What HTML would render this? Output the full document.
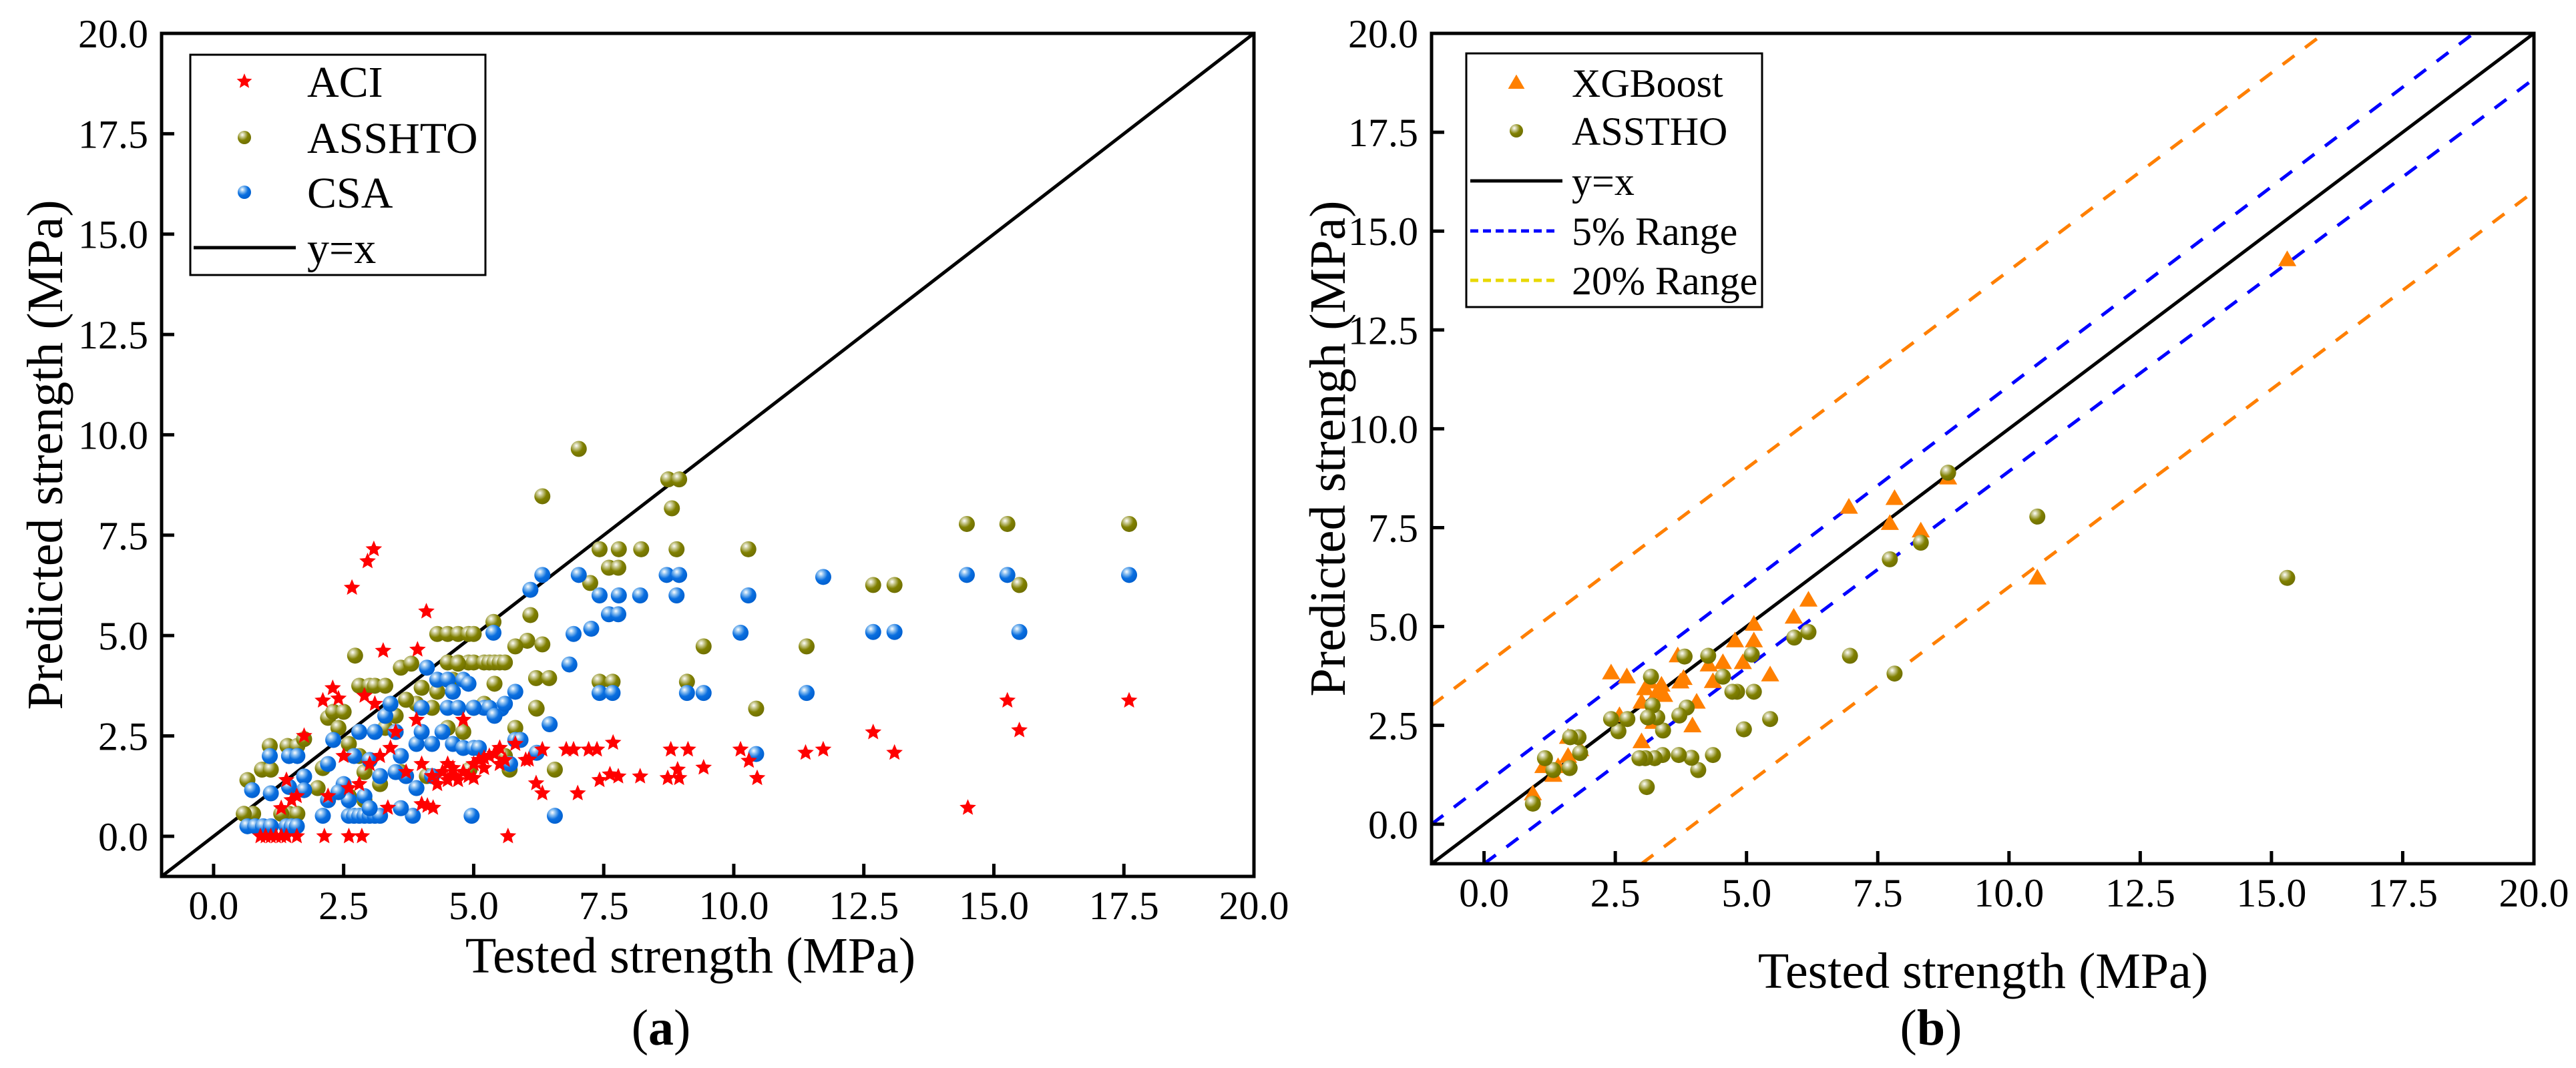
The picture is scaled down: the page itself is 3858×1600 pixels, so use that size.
<!DOCTYPE html>
<html><head><meta charset="utf-8">
<style>
html,body{margin:0;padding:0;background:#fff;}
svg{display:block;font-family:"Liberation Serif","Times New Roman",serif;}
text{font-family:"Liberation Serif","Times New Roman",serif;}
</style></head>
<body>
<svg id="fig" width="3858" height="1600" viewBox="0 0 3858 1600" xmlns="http://www.w3.org/2000/svg" font-family="Liberation Serif, serif">
<defs>
<radialGradient id="gOlive" cx="0.35" cy="0.3" r="0.7">
<stop offset="0" stop-color="#ffffff"/><stop offset="0.25" stop-color="#c8c890"/><stop offset="0.6" stop-color="#808000"/><stop offset="1" stop-color="#707000"/>
</radialGradient>
<radialGradient id="gBlue" cx="0.35" cy="0.3" r="0.7">
<stop offset="0" stop-color="#ffffff"/><stop offset="0.25" stop-color="#8cc0f0"/><stop offset="0.6" stop-color="#0a6fe0"/><stop offset="1" stop-color="#0060d0"/>
</radialGradient>
<clipPath id="clipA"><rect x="242" y="50" width="1636" height="1263"/></clipPath>
<clipPath id="clipB"><rect x="2144" y="50" width="1651" height="1244"/></clipPath>
</defs>
<g id="panelA"></g>
<g id="panelB"></g>
</svg>
<script>
// ---------- Panel (a) data ----------
const aciX = [3.08,2.96,2.66,4.09,3.26,3.92,2.1,2.29,2.4,1.74,15.26,17.6,12.68,15.49,13.09,11.38,11.72,10.13,10.29,10.45,9.42,9.12,8.79,8.92,8.73,8.95,8.2,7.68,7.78,7.62,7.42,7.37,7.21,7.0,6.92,6.78,6.32,6.2,6.32,6.06,14.5,5.66,0.9,1.0,1.1,1.2,1.3,1.4,1.6,2.13,2.6,2.85,3.35,4.11,4.22,4.0,
4.3,4.5,4.6,4.7,4.8,4.9,5.0,5.1,5.2,5.3,5.4,5.5,5.0,4.4,4.6,4.8,5.5,5.6,4.2,4.0,3.7,3.4,3.2,3.0,2.8,2.6,2.5,3.5,3.9,1.5,1.6,1.3,1.4,2.2,2.9,3.1,5.8,6.0,4.5,5.2];
const aciY = [7.15,6.85,6.19,5.6,4.62,4.65,3.38,3.69,3.43,2.5,3.38,3.38,2.59,2.64,2.08,2.08,2.16,2.16,1.88,1.45,1.71,2.16,2.16,1.66,1.45,1.45,1.49,2.33,1.49,1.54,1.4,2.16,2.16,1.07,2.16,2.16,1.07,1.32,2.16,1.91,0.71,0,0,0,0,0,0,0,0,0,0,0,0.71,0.76,0.71,0.8,
1.3,1.4,1.5,1.4,1.6,1.5,1.8,1.9,1.95,2.0,2.05,1.8,1.45,1.6,1.7,2.9,2.2,1.9,1.5,1.8,1.6,2.2,2.0,1.8,1.3,1.2,2.0,2.6,2.9,0.9,1.0,0.7,1.4,1.0,3.5,3.3,2.3,1.9,1.8,1.7];
const asshtoX = [7.02,8.74,8.95,8.81,6.32,14.48,15.26,17.6,7.42,7.79,8.22,8.9,10.28,7.24,7.6,7.78,12.68,13.09,15.49,6.09,5.38,9.42,11.4,6.03,6.32,5.8,2.72,10.43,9.1,7.42,7.67,6.2,6.45,6.21,6.56,5.69,4.92,4.3,4.5,4.7,4.9,5.0,4.5,4.7,4.9,5.0,5.2,5.3,5.4,5.5,5.6,
0.65,0.76,0.58,1.08,0.93,1.1,1.42,1.61,1.74,1.45,1.61,1.3,
2.2,2.3,2.5,2.4,2.8,3.0,3.1,3.3,2.6,2.8,2.9,3.2,3.6,3.8,4.0,3.9,4.2,3.5,3.3,4.5,4.8,5.0,5.2,5.6,5.8,4.6,4.3,2.0,2.1,2.6,3.0,3.6,4.1,2.9,4.7,5.4,6.2,3.7];
const asshtoY = [9.65,8.89,8.89,8.17,8.47,7.78,7.78,7.78,7.15,7.15,7.15,7.15,7.15,6.31,6.69,6.69,6.26,6.26,6.26,5.51,5.34,4.73,4.73,4.87,4.78,4.73,4.5,3.18,3.85,3.85,3.85,3.94,3.94,3.18,1.66,1.66,1.66,5.04,5.04,5.04,5.04,5.04,4.33,4.33,4.33,4.33,4.33,4.33,4.33,4.33,4.33,
1.4,0.56,0.56,2.25,1.66,1.66,2.25,2.25,2.42,0.56,0.56,0.56,
2.95,3.1,3.1,2.7,3.75,3.75,3.75,3.75,2.3,2.0,1.6,1.3,4.2,4.3,3.7,3.3,3.2,3.0,2.7,2.7,2.6,3.2,3.3,2.0,2.7,3.9,3.6,1.2,1.7,1.0,1.9,1.6,1.5,0.9,4.3,3.8,3.2,3.4];
const csaX = [17.6,15.26,14.48,11.72,10.28,8.9,8.71,8.95,7.02,6.32,6.09,7.42,7.79,8.2,7.6,7.78,7.26,6.92,10.13,12.68,13.09,15.49,5.38,6.84,7.42,7.67,9.1,9.42,11.4,10.43,4.96,6.56,3.83,6.21,6.46,5.8,5.53,
0.65,0.8,0.95,1.1,1.4,1.5,1.6,0.74,1.08,1.45,1.61,1.45,1.74,1.1,1.74,
2.1,2.6,2.7,2.8,2.9,3.0,3.1,3.2,
2.2,2.3,2.5,2.7,2.8,3.0,3.1,3.3,3.5,3.6,3.7,3.9,3.9,4.0,4.1,4.3,4.5,4.6,4.8,4.9,4.4,4.6,4.8,5.0,5.1,5.2,5.3,5.4,4.2,4.0,3.2,2.9,2.6,2.2,3.4,4.5,4.7,5.0,4.2,3.5,5.6,5.8,5.9,5.7,2.4,3.0,3.6];
const csaY = [6.51,6.51,6.51,6.46,6.0,6.0,6.51,6.51,6.51,6.51,6.14,6.0,6.0,6.0,5.53,5.53,5.17,5.04,5.07,5.09,5.09,5.09,5.07,4.28,3.57,3.57,3.57,3.57,3.57,2.05,0.51,0.51,0.51,2.08,2.79,3.6,3.18,
0.25,0.25,0.25,0.25,0.25,0.25,0.25,1.15,2.0,2.0,2.0,1.23,1.49,1.07,1.15,
0.51,0.51,0.51,0.51,0.51,0.51,0.51,0.51,
1.8,2.4,1.3,2.0,2.6,1.9,2.6,3.0,2.6,2.0,1.5,1.2,2.3,3.2,4.2,3.9,3.9,3.6,3.9,3.8,2.6,2.3,2.2,2.2,2.2,3.2,3.2,3.0,1.5,2.6,1.5,1.0,0.9,0.9,3.3,3.2,3.2,3.2,2.3,1.6,3.3,2.4,2.4,1.8,1.1,0.7,0.7];

// ---------- Panel (b) data ----------
const xgbX = [15.3,10.54,8.84,8.32,7.82,7.73,6.95,6.18,5.9,5.45,5.14,5.14,4.93,4.78,4.55,4.36,4.28,4.05,3.97,3.8,3.69,3.38,3.3,3.23,3.15,3.07,3.0,3.0,2.72,2.42,2.58,1.83,1.6,1.6,1.32,1.13,0.93,1.41,3.43,3.74];
const xgbY = [14.28,6.23,8.76,7.42,8.24,7.61,8.02,5.67,5.24,3.78,5.06,4.64,4.09,4.64,4.09,3.61,4.03,3.09,2.49,3.69,4.26,3.52,3.35,2.58,3.6,3.43,3.09,2.09,3.73,3.83,2.75,1.89,2.2,1.72,1.24,1.46,0.77,1.46,3.26,3.6];
const asthoX = [15.3,10.54,8.84,8.32,7.73,7.82,6.97,6.18,5.91,5.45,5.14,5.1,4.95,4.82,4.73,4.55,4.36,4.27,4.08,3.95,3.86,3.82,3.71,3.72,3.41,3.4,3.3,3.25,3.21,3.18,3.12,3.07,2.96,3.1,2.56,2.42,2.73,1.8,1.64,1.83,1.32,1.63,1.16,0.93];
const asthoY = [6.23,7.78,8.89,7.12,6.7,3.81,4.26,4.86,4.72,2.66,3.35,4.29,2.4,3.35,3.35,3.73,1.75,4.26,1.37,1.68,2.95,4.24,1.75,2.75,2.37,1.75,2.7,1.67,3.0,3.73,2.7,1.67,1.67,0.94,2.35,2.66,2.66,2.2,2.2,1.8,1.37,1.42,1.67,0.52];
const yxLine = [[-1,-1],[20,20]];
const band5Upper = [[-1,0],[18.85,20]];
const band5Lower = [[0,-1],[20,18.85]];
const band20Upper = [[-1,3],[16,20]];
const band20Lower = [[3,-1],[20,16]];
const tickVals = [0,2.5,5,7.5,10,12.5,15,17.5,20];
const tickLabels = ["0.0","2.5","5.0","7.5","10.0","12.5","15.0","17.5","20.0"];

const NS = "http://www.w3.org/2000/svg";
const FF = "Liberation Serif, Times New Roman, serif";
function mk(tag, attrs, parent){
  const e = document.createElementNS(NS, tag);
  for (const k in attrs) e.setAttribute(k, attrs[k]);
  if (tag === "text") e.setAttribute("font-family", FF);
  if (parent) parent.appendChild(e);
  return e;
}
function scale(d0,d1,r0,r1){ return v => r0 + (v-d0)/(d1-d0)*(r1-r0); }

function star(cx, cy, R){
  const r = R*0.45; let p = [];
  for (let i=0;i<10;i++){
    const a = -Math.PI/2 + i*Math.PI/5;
    const rr = i%2===0 ? R : r;
    p.push((cx+rr*Math.cos(a)).toFixed(1)+","+(cy+rr*Math.sin(a)).toFixed(1));
  }
  return p.join(" ");
}
function tri(cx, cy, s){
  return (cx)+","+(cy-s*0.62)+" "+(cx-s*0.62)+","+(cy+s*0.45)+" "+(cx+s*0.62)+","+(cy+s*0.45);
}

function drawAxes(g, box, sx, sy, titleX, titleYx, xTitleY){
  const [L,T,R,B] = [box.l, box.t, box.r, box.b];
  tickVals.forEach((v,i)=>{
    const x = sx(v);
    const t1 = mk("line",{x1:x,y1:B,x2:x,y2:B-19,stroke:"#000","stroke-width":5},g);
    
    
    const lx = mk("text",{x:x,y:B+64,"font-size":60,"text-anchor":"middle",fill:"#000"},g);
    lx.textContent = tickLabels[i];
    
    
    const y = sy(v);
    const t2 = mk("line",{x1:L,y1:y,x2:L+19,y2:y,stroke:"#000","stroke-width":5},g);
    
    
    const ly = mk("text",{x:L-20,y:y+21,"font-size":60,"text-anchor":"end",fill:"#000"},g);
    ly.textContent = tickLabels[i];
    
    
  });
  const frame = mk("rect",{x:L,y:T,width:R-L,height:B-T,fill:"none",stroke:"#000","stroke-width":5},g);
  
  
  const xt = mk("text",{x:titleX,y:xTitleY,"font-size":76,"text-anchor":"middle",fill:"#000"},g);
  xt.textContent = "Tested strength (MPa)";
  
  
  const cy = (T+B)/2;
  const yt = mk("text",{x:titleYx,y:cy,"font-size":76,"text-anchor":"middle","dominant-baseline":"central",transform:"rotate(-90 "+titleYx+" "+cy+")",fill:"#000"},g);
  return yt;
}

function drawLine(g, pts, sx, sy, attrs){
  return mk("line",Object.assign({x1:sx(pts[0][0]),y1:sy(pts[0][1]),x2:sx(pts[1][0]),y2:sy(pts[1][1])},attrs),g);
}

// ================= Panel A =================
(function(){
  const g = document.getElementById("panelA");
  const box = {l:242,t:50,r:1878,b:1313};
  const sx = scale(-1,20,box.l,box.r), sy = scale(-1,20,box.b,box.t);
  const plot = mk("g",{"clip-path":"url(#clipA)"},g);
  
  
  const diag = drawLine(plot, yxLine, sx, sy, {stroke:"#000","stroke-width":5});
  
  
  asshtoX.forEach((v,i)=>{
    const c = mk("circle",{cx:sx(v),cy:sy(asshtoY[i]),r:12,fill:"url(#gOlive)"},plot);
    
    
  });
  csaX.forEach((v,i)=>{
    const c = mk("circle",{cx:sx(v),cy:sy(csaY[i]),r:12,fill:"url(#gBlue)"},plot);
    
    
  });
  aciX.forEach((v,i)=>{
    const s = mk("polygon",{points:star(sx(v),sy(aciY[i]),13),fill:"#ff0000"},plot);
    
    
  });
  const yt = drawAxes(g, box, sx, sy, 1034, 68, 1457);
  yt.textContent = "Predicted strength (MPa)";
  
  
  const lg = mk("g",{},g);
  
  
  mk("rect",{x:285,y:82,width:442,height:330,fill:"#fff",stroke:"#000","stroke-width":3},lg);
  const rows = [["ACI",122],["ASSHTO",206],["CSA",288],["y=x",371]];
  rows.forEach(r=>{
    const t = mk("text",{x:460,y:r[1]+23,"font-size":66,fill:"#000"},lg);
    t.textContent = r[0];
    
    
  });
  mk("polygon",{points:star(366,122,12),fill:"#ff0000"},lg);
  mk("circle",{cx:366,cy:206,r:10,fill:"url(#gOlive)"},lg);
  mk("circle",{cx:366,cy:288,r:10,fill:"url(#gBlue)"},lg);
  mk("line",{x1:290,y1:371,x2:443,y2:371,stroke:"#000","stroke-width":5},lg);
  const cap = mk("text",{x:990,y:1565,"font-size":76,"text-anchor":"middle",fill:"#000"},g);
  cap.innerHTML = '(<tspan font-weight="bold">a</tspan>)';
  
  
})();

// ================= Panel B =================
(function(){
  const g = document.getElementById("panelB");
  const box = {l:2144,t:50,r:3795,b:1294};
  const sx = scale(-1,20,box.l,box.r), sy = scale(-1,20,box.b,box.t);
  const plot = mk("g",{"clip-path":"url(#clipB)"},g);
  
  
  const o1 = drawLine(plot, band20Upper, sx, sy, {stroke:"#ff7f00","stroke-width":5,"stroke-dasharray":"22 20"});
  
  
  const o2 = drawLine(plot, band20Lower, sx, sy, {stroke:"#ff7f00","stroke-width":5,"stroke-dasharray":"22 20"});
  
  
  const b1 = drawLine(plot, band5Upper, sx, sy, {stroke:"#0000ff","stroke-width":5,"stroke-dasharray":"22 20"});
  
  
  const b2 = drawLine(plot, band5Lower, sx, sy, {stroke:"#0000ff","stroke-width":5,"stroke-dasharray":"22 20"});
  
  
  const d = drawLine(plot, yxLine, sx, sy, {stroke:"#000","stroke-width":5});
  
  
  xgbX.forEach((v,i)=>{
    const p = mk("polygon",{points:tri(sx(v),sy(xgbY[i]),22),fill:"#ff8000"},plot);
    
    
  });
  asthoX.forEach((v,i)=>{
    const c = mk("circle",{cx:sx(v),cy:sy(asthoY[i]),r:12,fill:"url(#gOlive)"},plot);
    
    
  });
  const yt = drawAxes(g, box, sx, sy, 2970, 1989, 1480);
  yt.textContent = "Predicted strengh (MPa)";
  
  
  const lg = mk("g",{},g);
  
  
  mk("rect",{x:2196,y:80,width:443,height:380,fill:"#fff",stroke:"#000","stroke-width":3},lg);
  const rows = [["XGBoost",124],["ASSTHO",196],["y=x",271],["5% Range",346],["20% Range",420]];
  rows.forEach(r=>{
    const t = mk("text",{x:2354,y:r[1]+21,"font-size":60,fill:"#000"},lg);
    t.textContent = r[0];
    
    
  });
  mk("polygon",{points:tri(2271,124,20),fill:"#ff8000"},lg);
  mk("circle",{cx:2271,cy:196,r:10,fill:"url(#gOlive)"},lg);
  mk("line",{x1:2202,y1:271,x2:2340,y2:271,stroke:"#000","stroke-width":5},lg);
  mk("line",{x1:2202,y1:346,x2:2332,y2:346,stroke:"#0000ff","stroke-width":5,"stroke-dasharray":"12 7"},lg);
  mk("line",{x1:2202,y1:420,x2:2332,y2:420,stroke:"#e8d800","stroke-width":5,"stroke-dasharray":"12 7"},lg);
  const cap = mk("text",{x:2892,y:1565,"font-size":76,"text-anchor":"middle",fill:"#000"},g);
  cap.innerHTML = '(<tspan font-weight="bold">b</tspan>)';
  
  
})();
</script>
</body></html>
